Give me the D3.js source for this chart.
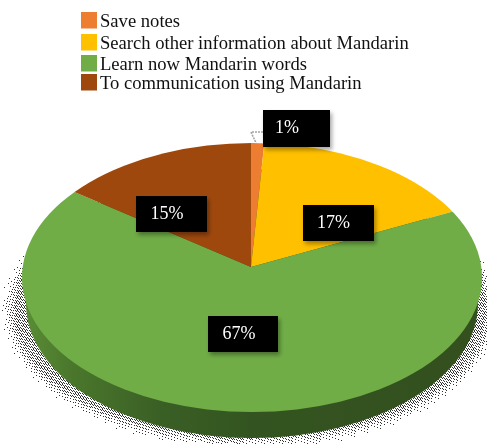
<!DOCTYPE html>
<html>
<head>
<meta charset="utf-8">
<script src="https://cdn.jsdelivr.net/npm/d3@7"></script>
<style>
html,body{margin:0;padding:0;background:#fff;}
#chart{position:relative;width:487px;height:444px;overflow:hidden;}
canvas,svg{position:absolute;left:0;top:0;display:block;}
text{font-family:"Liberation Serif","Times New Roman",serif;}
</style>
</head>
<body>
<div id="chart"></div>
<script>
const categories = ["Save notes", "Search other information about Mandarin", "Learn now Mandarin words", "To communication using Mandarin"];
const shares = [1, 17, 67, 15];
const sliceColors = ["#ed7d31", "#ffc000", "#70ad47", "#9e480e"];

const width = 487, height = 444;
// Top face ellipse, and the pie apex which sits above its centre because of the tilt
const cx = 252, cy = 277.5, rx = 230, ry = 134.5;
const apexX = 251, apexY = 267;
const rimDrop = 26;
const legendRows = [12, 34, 55, 74];
const labelBoxes = [[263, 110, 67, 37, 24], [303, 205, 71, 36, 30.5], [208, 316, 70, 36, 31], [136, 196, 71, 36, 31]];

// Ground shadow: a halftone ellipse whose dot density fades toward its edge
const shadow = {cx: 250, cy: 310, rx: 250, ry: 141, fade: 16, core: 0.36};
const canvas = d3.select("#chart").append("canvas").attr("width", width).attr("height", height).node();
const ctx = canvas.getContext("2d");
ctx.fillStyle = "#333";
const density = d3.scalePow().exponent(1.4).domain([0, shadow.fade]).range([0, shadow.core]).clamp(true);
for (let y = 0; y < height; y++) {
  for (let x = 0; x < width; x++) {
    const r = Math.hypot((x - shadow.cx) / shadow.rx, (y - shadow.cy) / shadow.ry);
    if (r >= 1) continue;
    const inset = (1 - r) * Math.min(shadow.rx, Math.hypot((x - shadow.cx), (y - shadow.cy)) / r);
    const g = (52.9829189 * ((0.06711056 * x + 0.00583715 * y) % 1)) % 1;
    if (g < density(inset)) ctx.fillRect(x, y, 1, 1);
  }
}

const svg = d3.select("#chart").append("svg").attr("width", width).attr("height", height);
const defs = svg.append("defs");

const sideGrad = defs.append("linearGradient").attr("id", "sideGrad");
[[0, "#5a8c35"], [0.1, "#4a772c"], [0.3, "#3a5f25"], [0.5, "#335420"], [1, "#33501e"]].forEach(([o, c]) =>
  sideGrad.append("stop").attr("offset", o).attr("stop-color", c));

const boxShadow = defs.append("filter").attr("id", "boxShadow")
  .attr("x", "-20%").attr("y", "-30%").attr("width", "150%").attr("height", "170%");
boxShadow.append("feDropShadow").attr("dx", 2).attr("dy", 3).attr("stdDeviation", 2)
  .attr("flood-color", "#000").attr("flood-opacity", 0.35);

defs.append("clipPath").attr("id", "faceClip").append("ellipse")
  .attr("cx", cx).attr("cy", cy).attr("rx", rx).attr("ry", ry);

// Extruded rim: the same ellipse, slightly narrower, dropped below the top face
svg.append("ellipse")
  .attr("cx", cx).attr("cy", cy + rimDrop).attr("rx", rx - 4).attr("ry", ry)
  .attr("fill", "url(#sideGrad)");

// Top face: wedges fan out from the apex and are trimmed by the ellipse
const pie = d3.pie().sort(null).value(d => d);
const arc = d3.arc().innerRadius(0).outerRadius(ry * 1.3);
svg.append("g").attr("clip-path", "url(#faceClip)")
  .append("g")
  .attr("transform", `translate(${apexX},${apexY}) scale(${rx / ry},1)`)
  .selectAll("path")
  .data(pie(shares))
  .join("path")
  .attr("d", arc)
  .attr("fill", (d, i) => sliceColors[i]);

// Leader line for the smallest slice
svg.append("path")
  .attr("d", "M263,132 H251 L256,143")
  .attr("fill", "none").attr("stroke", "#a6a6a6").attr("stroke-width", 1.6).attr("stroke-dasharray", "2 1");

// Value labels
const labels = svg.append("g").selectAll("g")
  .data(shares)
  .join("g")
  .attr("transform", (d, i) => `translate(${labelBoxes[i][0]},${labelBoxes[i][1]})`);
labels.append("rect")
  .attr("width", (d, i) => labelBoxes[i][2])
  .attr("height", (d, i) => labelBoxes[i][3])
  .attr("fill", "#000").attr("filter", "url(#boxShadow)");
labels.append("text")
  .attr("x", (d, i) => labelBoxes[i][4]).attr("y", 23)
  .attr("text-anchor", "middle").attr("font-size", 18).attr("fill", "#fff")
  .text(d => d + "%");

// Legend
const legend = svg.append("g").selectAll("g")
  .data(categories)
  .join("g")
  .attr("transform", (d, i) => `translate(81,${legendRows[i]})`);
legend.append("rect").attr("width", 16).attr("height", 16.5).attr("fill", (d, i) => sliceColors[i]);
legend.append("text")
  .attr("x", 19).attr("y", 14.5)
  .attr("font-size", 18.6).attr("fill", "#111")
  .text(d => d);
</script>
</body>
</html>
